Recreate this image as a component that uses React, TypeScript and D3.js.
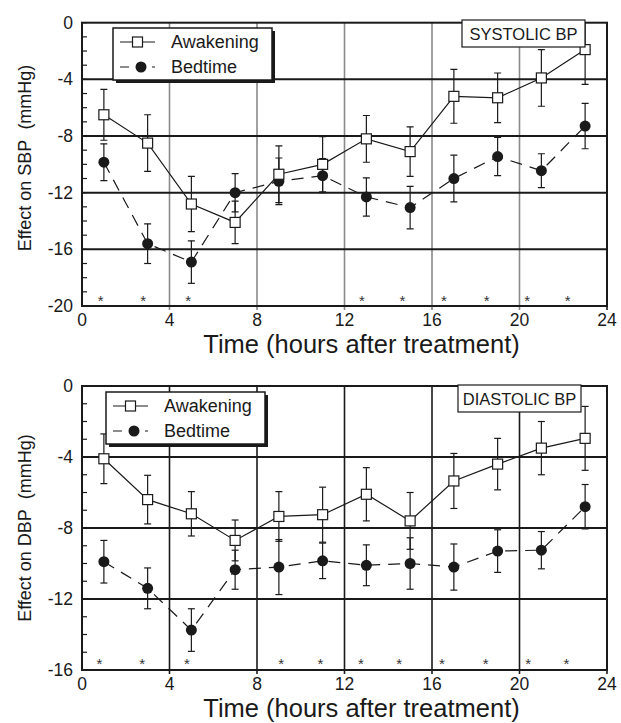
import { scaleLinear, line, range } from "d3";

// hours after treatment (measurement points)
const hours = [1, 3, 5, 7, 9, 11, 13, 15, 17, 19, 21, 23];

// systolic BP effect (mmHg) and error half-widths
const sbpAwake = [-6.5, -8.5, -12.8, -14.1, -10.7, -10.0, -8.2, -9.1, -5.2, -5.3, -3.9, -1.9];
const sbpAwakeErr = [1.8, 2.0, 1.95, 1.5, 2.0, 1.95, 1.65, 1.75, 1.9, 1.75, 2.0, 2.45];
const sbpBed = [-9.85, -15.6, -16.9, -12.0, -11.2, -10.8, -12.3, -13.05, -11.0, -9.45, -10.45, -7.3];
const sbpBedErr = [1.3, 1.4, 1.5, 1.35, 1.65, 1.2, 1.35, 1.5, 1.65, 1.35, 1.2, 1.6];

// diastolic BP effect (mmHg) and error half-widths
const dbpAwake = [-4.1, -6.4, -7.2, -8.7, -7.35, -7.25, -6.1, -7.6, -5.35, -4.4, -3.5, -2.95];
const dbpAwakeErr = [1.4, 1.37, 1.25, 1.15, 1.4, 1.55, 1.5, 1.6, 1.55, 1.45, 1.5, 1.8];
const dbpBed = [-9.9, -11.4, -13.75, -10.35, -10.2, -9.85, -10.1, -10.0, -10.2, -9.3, -9.25, -6.8];
const dbpBedErr = [1.2, 1.15, 1.2, 1.1, 1.55, 1.0, 1.15, 1.45, 1.3, 1.2, 1.05, 1.25];

// significance markers (hour positions)
const sbpStars = [0.85, 2.8, 4.85, 12.8, 14.65, 16.55, 18.5, 20.35, 22.2];
const dbpStars = [0.8, 2.75, 4.8, 9.1, 10.9, 12.75, 14.5, 16.45, 18.45, 20.4, 22.15];

const xTicks = [0, 4, 8, 12, 16, 20, 24];
const sbpTicks = [0, -4, -8, -12, -16, -20];
const dbpTicks = [0, -4, -8, -12, -16];

const FONT = "'Liberation Sans', Arial, Helvetica, sans-serif";
const INK = "#1a1a1a";

type PanelProps = {
    id: string;
    top: number;
    bottom: number;
    yMin: number;
    yTicks: number[];
    awake: number[];
    awakeErr: number[];
    bed: number[];
    bedErr: number[];
    stars: number[];
    starValue: number;
    yLabel: string;
    boxLabel: string;
    boxX: number;
    boxY: number;
    legendX: number;
    legendY: number;
    vGridColor: string;
    yLabelY: number;
};

const LEFT = 82;
const RIGHT = 607;

function Panel(p: PanelProps) {
    const x = scaleLinear().domain([0, 24]).range([LEFT, RIGHT]);
    const y = scaleLinear().domain([p.yMin, 0]).range([p.bottom, p.top]);
    const path = line<number>()
        .x((_, i) => x(hours[i]))
        .y((d) => y(d));
    const minor = range(p.yMin, 1, 1);
    const cap = 3.5;

    const errBars = (vals: number[], errs: number[]) =>
        vals.map((v, i) => {
            const cx = x(hours[i]);
            const y1 = y(v + errs[i]);
            const y2 = y(v - errs[i]);
            return (
                <g key={i} stroke={INK} strokeWidth={1.2}>
                    <line x1={cx} x2={cx} y1={y1} y2={y2} />
                    <line x1={cx - cap} x2={cx + cap} y1={y1} y2={y1} />
                    <line x1={cx - cap} x2={cx + cap} y1={y2} y2={y2} />
                </g>
            );
        });

    return (
        <g>
            <defs>
                <clipPath id={`clip-${p.id}`}>
                    <rect x={LEFT} y={p.top} width={RIGHT - LEFT} height={p.bottom - p.top} />
                </clipPath>
            </defs>

            {/* grid */}
            {xTicks.slice(1, -1).map((t) => (
                <line key={t} x1={x(t)} x2={x(t)} y1={p.top} y2={p.bottom + 4}
                    stroke={p.vGridColor} strokeWidth={1.6} />
            ))}
            {p.yTicks.slice(1, -1).map((t) => (
                <line key={t} x1={LEFT} x2={RIGHT} y1={y(t)} y2={y(t)}
                    stroke={INK} strokeWidth={2} />
            ))}
            {minor.map((t) => (
                <line key={t} x1={LEFT} x2={LEFT + 5} y1={y(t)} y2={y(t)}
                    stroke={INK} strokeWidth={1.2} />
            ))}
            <rect x={LEFT} y={p.top} width={RIGHT - LEFT} height={p.bottom - p.top}
                fill="none" stroke={INK} strokeWidth={2} />
            <line x1={RIGHT} x2={RIGHT} y1={p.bottom} y2={p.bottom + 4} stroke={INK} strokeWidth={1.6} />

            {/* tick labels */}
            {p.yTicks.map((t) => (
                <text key={t} x={73} y={y(t) + 6} textAnchor="end" fontSize={17.5}
                    fontFamily={FONT} fill={INK}>{t}</text>
            ))}
            {xTicks.map((t) => (
                <text key={t} x={x(t)} y={p.bottom + 20} textAnchor="middle" fontSize={17.5}
                    fontFamily={FONT} fill={INK}>{t}</text>
            ))}

            {/* asterisks */}
            {p.stars.map((s, i) => (
                <text key={i} x={x(s)} y={y(p.starValue) + 8} textAnchor="middle"
                    fontSize={15} fontFamily={FONT} fill="#333">*</text>
            ))}

            <g clipPath={`url(#clip-${p.id})`}>
                {errBars(p.awake, p.awakeErr)}
                {errBars(p.bed, p.bedErr)}
                <path d={path(p.awake) ?? ""} fill="none" stroke={INK} strokeWidth={1.2} />
                <path d={path(p.bed) ?? ""} fill="none" stroke={INK} strokeWidth={1.2}
                    strokeDasharray="12,8" />
                {p.bed.map((v, i) => (
                    <circle key={i} cx={x(hours[i])} cy={y(v)} r={5.5} fill={INK} />
                ))}
                {p.awake.map((v, i) => (
                    <rect key={i} x={x(hours[i]) - 5} y={y(v) - 5} width={10} height={10}
                        fill="#fff" stroke={INK} strokeWidth={1.2} />
                ))}
            </g>

            {/* label box */}
            <rect x={p.boxX} y={p.boxY} width={123} height={27} fill="#fff"
                stroke={INK} strokeWidth={1.2} />
            <text x={p.boxX + 61.5} y={p.boxY + 20} textAnchor="middle" fontSize={16.5}
                fontFamily={FONT} fill={INK}>{p.boxLabel}</text>

            {/* legend */}
            <rect x={p.legendX + 3} y={p.legendY + 3} width={159} height={52} fill={INK} />
            <rect x={p.legendX} y={p.legendY} width={159} height={52} fill="#fff"
                stroke={INK} strokeWidth={1.5} />
            <line x1={p.legendX + 7} x2={p.legendX + 42} y1={p.legendY + 14} y2={p.legendY + 14}
                stroke={INK} strokeWidth={1.2} />
            <rect x={p.legendX + 19.5} y={p.legendY + 9} width={10} height={10} fill="#fff"
                stroke={INK} strokeWidth={1.2} />
            <text x={p.legendX + 58} y={p.legendY + 20} fontSize={18} fontFamily={FONT}
                fill={INK}>Awakening</text>
            <line x1={p.legendX + 7} x2={p.legendX + 42} y1={p.legendY + 39} y2={p.legendY + 39}
                stroke={INK} strokeWidth={1.2} strokeDasharray="9,7" />
            <circle cx={p.legendX + 28} cy={p.legendY + 39} r={5.5} fill={INK} />
            <text x={p.legendX + 58} y={p.legendY + 45} fontSize={18} fontFamily={FONT}
                fill={INK}>Bedtime</text>

            {/* axis titles */}
            <text transform={`translate(31,${p.yLabelY}) rotate(-90)`} textAnchor="middle"
                fontSize={18} fontFamily={FONT} fill={INK} style={{ whiteSpace: "pre" }}>
                {p.yLabel}
            </text>
            <text x={(LEFT + RIGHT) / 2 + 17} y={p.bottom + 47} textAnchor="middle" fontSize={25.5}
                fontFamily={FONT} fill={INK}>Time (hours after treatment)</text>
        </g>
    );
}

export default function App() {
    return (
        <svg width={621} height={723} style={{ position: "absolute", left: 0, top: 0, background: "#fff" }}>
            <rect width={621} height={723} fill="#fff" />
            <Panel id="sbp" top={22.7} bottom={306} yMin={-20} yTicks={sbpTicks}
                awake={sbpAwake} awakeErr={sbpAwakeErr} bed={sbpBed} bedErr={sbpBedErr}
                stars={sbpStars} starValue={-19.4} yLabel={"Effect on SBP\u00a0\u00a0(mmHg)"}
                boxLabel="SYSTOLIC BP" boxX={462} boxY={20} legendX={113} legendY={28}
                vGridColor="#8a8a8a" yLabelY={158} />
            <Panel id="dbp" top={386} bottom={670} yMin={-16} yTicks={dbpTicks}
                awake={dbpAwake} awakeErr={dbpAwakeErr} bed={dbpBed} bedErr={dbpBedErr}
                stars={dbpStars} starValue={-15.5} yLabel={"Effect on DBP\u00a0\u00a0(mmHg)"}
                boxLabel="DIASTOLIC BP" boxX={458} boxY={385} legendX={106} legendY={392}
                vGridColor={INK} yLabelY={528} />
        </svg>
    );
}
